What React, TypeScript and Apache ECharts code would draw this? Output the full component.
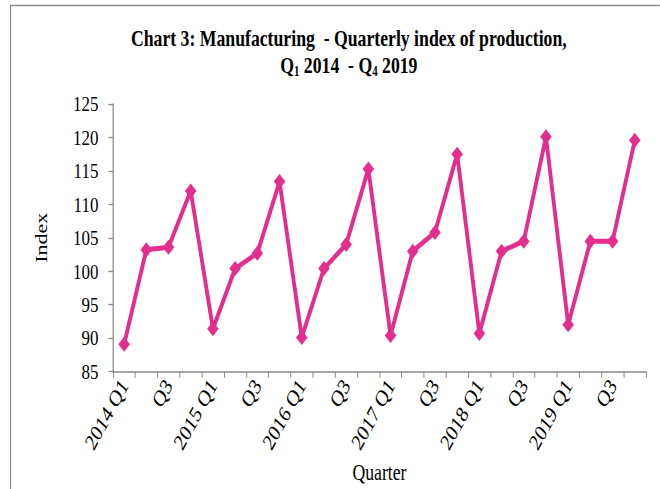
import React, { useEffect, useRef } from "react";
import * as echarts from "echarts";

const years = ["2014", "2015", "2016", "2017", "2018", "2019"];
const quarters = ["Q1", "Q2", "Q3", "Q4"];
const categories: string[] = [];
years.forEach((y) => quarters.forEach((q) => categories.push(q === "Q1" ? `${y} Q1` : q)));

const indexValues = [
  89.1, 103.2, 103.6, 112.0,
  91.4, 100.4, 102.7, 113.4,
  90.1, 100.4, 104.0, 115.3,
  90.4, 103.0, 105.8, 117.5,
  90.7, 103.0, 104.5, 120.1,
  92.0, 104.5, 104.5, 119.6,
];

const yMin = 85;
const yMax = 125;
const yStep = 5;

const FONT = "'Liberation Serif', 'Times New Roman', serif";
const AXIS = "#8a8a8a";
const PINK = "#e42e8e";
const SX = 0.77; // horizontal squeeze of the whole chart, as in the reference
const W = Math.round(660 / SX);

export default function App() {
  const ref = useRef<HTMLDivElement>(null);
  useEffect(() => {
    document.body.style.margin = "0";
    const chart = echarts.init(ref.current!, null, { renderer: "svg" });
    chart.setOption({
      animation: false,
      backgroundColor: "#ffffff",
      title: {
        left: 345 / SX,
        top: 20,
        textAlign: "center",
        text:
          "{n|Chart 3: Manufacturing  - Quarterly index of production,}\n{n|Q}{s|1}{n| 2014  - Q}{s|4}{n| 2019}",
        textStyle: {
          fontFamily: FONT,
          fontWeight: "bold",
          fontSize: 23,
          color: "#000",
          rich: {
            n: { fontFamily: FONT, fontWeight: "bold", fontSize: 23, lineHeight: 27, color: "#000" },
            s: { fontFamily: FONT, fontWeight: "bold", fontSize: 14, lineHeight: 22, verticalAlign: "bottom", color: "#000" },
          },
        },
      },
      graphic: [
        {
          type: "polyline",
          shape: { points: [[10.5 / SX, 489], [10.5 / SX, 5.5], [W, 5.5]] },
          style: { stroke: "#8c8c8c", lineWidth: 1.6, fill: "none" },
        },
      ],
      grid: { left: 113 / SX, right: 14 / SX, top: 104, bottom: 111, containLabel: false },
      xAxis: {
        type: "category",
        data: categories,
        boundaryGap: true,
        name: "Quarter",
        nameLocation: "middle",
        nameGap: 88,
        nameTextStyle: { fontFamily: FONT, fontSize: 23, color: "#000" },
        axisLine: { lineStyle: { color: AXIS, width: 1.6 } },
        axisTick: { show: true, length: 6, interval: 0, lineStyle: { color: AXIS, width: 1.3 } },
        axisLabel: {
          interval: 1,
          rotate: 55,
          fontFamily: FONT,
          fontSize: 23,
          color: "#000",
          margin: 10,
        },
        splitLine: { show: false },
      },
      yAxis: {
        type: "value",
        min: yMin,
        max: yMax,
        interval: yStep,
        name: "Index",
        nameLocation: "middle",
        nameGap: 82,
        nameTextStyle: { fontFamily: FONT, fontSize: 22, color: "#000" },
        axisLine: { show: true, lineStyle: { color: AXIS, width: 1.6 } },
        axisTick: { show: true, length: 6, lineStyle: { color: AXIS, width: 1.3 } },
        axisLabel: { fontFamily: FONT, fontSize: 22, color: "#000", margin: 19 },
        splitLine: { show: false },
      },
      series: [
        {
          type: "line",
          data: indexValues,
          symbol: "diamond",
          symbolSize: 15,
          showAllSymbol: true,
          itemStyle: { color: PINK },
          lineStyle: { color: PINK, width: 5 },
        },
      ],
    });
    return () => chart.dispose();
  }, []);
  return (
    <div style={{ width: 660, height: 489, overflow: "hidden", position: "relative", background: "#fff" }}>
      <div
        ref={ref}
        style={{ width: W, height: 489, transform: `scaleX(${SX})`, transformOrigin: "0 0" }}
      />
    </div>
  );
}
